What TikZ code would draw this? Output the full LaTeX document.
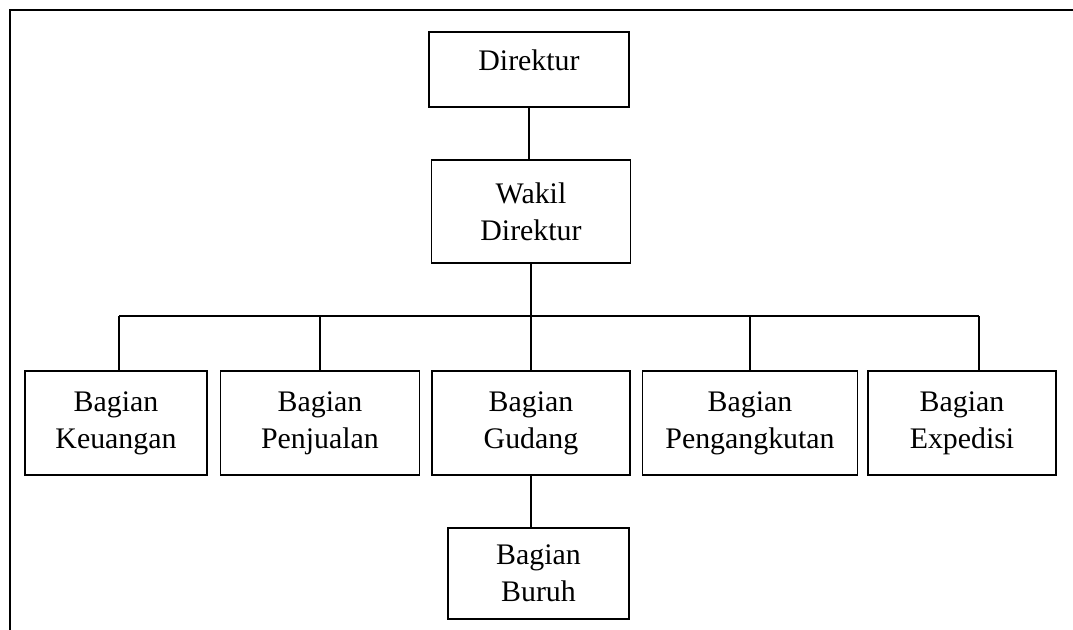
\documentclass[tikz,border=0pt]{standalone}
\usepackage{fontspec}
\setmainfont{Liberation Serif}
\usepackage{tikz}
\usetikzlibrary{positioning,calc}

\begin{document}
\begin{tikzpicture}[
    x=0.75pt, y=-0.75pt,
    unit/.style={rectangle, draw=black, line width=1.4pt, fill=white, align=center, inner sep=2pt, minimum height=78pt, font=\fontsize{22.4pt}{27.75pt}\selectfont},
    link/.style={line width=1.4pt, black},
    frame/.style={line width=1.8pt, black}
]
    \useasboundingbox (0,0) rectangle (1073,630);

    % Page frame
    \draw[frame] (1073,10) -- (10,10) -- (10,630);

    % Top
    \node[unit, minimum width=150pt, minimum height=0pt, inner ysep=0pt, text height=29pt, text depth=27.2pt] (dir) at (529,69.5) {Direktur};
    \node[unit, minimum width=149.25pt, minimum height=77.25pt] (wakil) at (531,211.5) {Wakil\\Direktur};

    % Bagian
    \node[unit, minimum width=136.5pt] (keu) at (116,423) {Bagian\\Keuangan};
    \node[unit, minimum width=149.25pt] (penj) at (320,423) {Bagian\\Penjualan};
    \node[unit, minimum width=148.5pt] (gud) at (531,423) {Bagian\\Gudang};
    \node[unit, minimum width=161.25pt] (angkut) at (750,423) {Bagian\\Pengangkutan};
    \node[unit, minimum width=141pt] (exp) at (962,423) {Bagian\\Expedisi};
    \node[unit, minimum width=135.75pt, minimum height=68.25pt] (buruh) at (538.5,573.5) {Bagian\\Buruh};

    % Bar
    \coordinate (barL) at (119,316);
    \coordinate (barR) at (979,316);

    % Links
    \draw[link] (dir.south) -- (dir.south |- wakil.north);
    \draw[link] (wakil.south) -- (wakil.south |- barL);
    \draw[link] (barL) -- (barR);
    \draw[link] (barL) -- (barL |- keu.north);
    \draw[link] (penj.north) -- (penj.north |- barL);
    \draw[link] (gud.north) -- (gud.north |- barL);
    \draw[link] (angkut.north) -- (angkut.north |- barL);
    \draw[link] (barR) -- (barR |- exp.north);
    \draw[link] (gud.south) -- (gud.south |- buruh.north);

\end{tikzpicture}
\end{document}
